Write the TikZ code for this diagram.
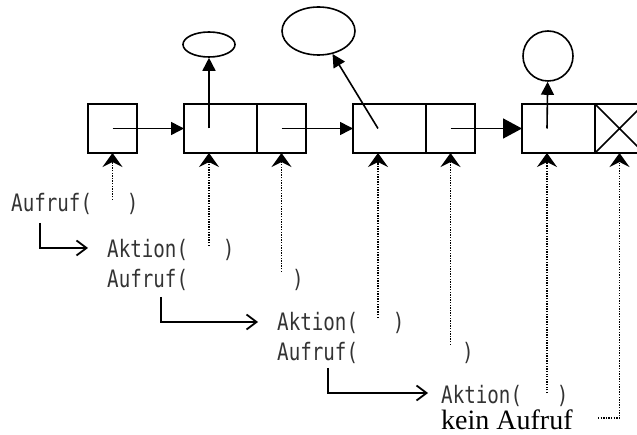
\documentclass[tikz,border=0pt]{standalone}
\usepackage{fontspec}
\usetikzlibrary{positioning,arrows.meta,shapes.geometric,calc}
\newfontfamily\codefont[FakeStretch=0.8]{DejaVu Sans Mono}
\newfontfamily\serfont{Liberation Serif}
\tikzset{
  listbox/.style={draw, line width=1.6pt, outer sep=0pt, inner sep=0pt, minimum height=49pt},
  kopfbox/.style={listbox, minimum width=49pt},
  datenbox/.style={listbox, minimum width=73pt},
  objekt/.style={draw, line width=1.6pt, ellipse, inner sep=0pt},
  codetext/.style={anchor=base west, inner sep=0pt, text=black!80,
    font=\codefont\fontsize{24}{28}\selectfont},
  listpfeil/.style={-{Triangle[length=13pt,width=13pt]}, line width=1.6pt},
  aufrufpfeil/.style={-{Straight Barb[length=10pt,width=15pt]}, line width=1.8pt},
  zeiger/.style={-{Stealth[length=14pt,width=20pt,inset=5pt]}, line width=1.4pt,
    dash pattern=on 1.3pt off 1.3pt}
}
\begin{document}
\begin{tikzpicture}[x=1pt, y=-1pt]
  \clip (0,0) rectangle (637,435);
  % Liste
  \node[kopfbox] (kopf) at (112.5,128.5) {};
  \node[datenbox, right=47pt of kopf] (d1) {};
  \node[kopfbox, right=0pt of d1] (n1) {};
  \node[datenbox, right=47pt of n1] (d2) {};
  \node[kopfbox, right=0pt of d2] (n2) {};
  \node[datenbox, right=47pt of n2] (d3) {};
  \node[kopfbox, right=0pt of d3] (nil) {};
  \draw[line width=1.6pt] (nil.north west) -- (nil.south east)
    (nil.south west) -- (nil.north east);

  % Objekte
  \node[objekt, minimum width=52pt, minimum height=25pt] (klein) at (209,44.5) {};
  \node[objekt, minimum width=73pt, minimum height=48pt] (gross) at (318.5,31) {};
  \node[objekt, circle, minimum size=50pt] (kreis) at (548,56) {};

  % Aufrufe
  \node[codetext] (auf0) at (11,212) {Aufruf(~~~)};
  \node[codetext] (akt1) at (107,258) {Aktion(~~~)};
  \node[codetext] (auf1) at (107,288) {Aufruf(~~~~~~~~~)};
  \node[codetext] (akt2) at (277,331) {Aktion(~~~)};
  \node[codetext] (auf2) at (277,361) {Aufruf(~~~~~~~~~)};
  \node[codetext] (akt3) at (441,403) {Aktion(~~~)};
  \node[anchor=base west, inner sep=0pt, font=\serfont\fontsize{28}{32}\selectfont]
    (kein) at (441,429) {kein Aufruf};

  \coordinate (z0) at (112.5,200);
  \coordinate (z1) at (209,246);
  \coordinate (z2) at (281.5,272);
  \coordinate (z3) at (378,318);
  \coordinate (z4) at (450.5,345);
  \coordinate (z5) at (547,393);
  \coordinate (z6) at (598,418);

  % Zeiger der Liste
  \draw[listpfeil] (kopf.center) -- (d1.west);
  \draw[listpfeil] (n1.center) -- (d2.west);
  \draw[listpfeil, -{Triangle[length=19pt,width=20pt]}] (n2.center) -- (d3.west);
  \draw[listpfeil] (z1 |- d1.center) -- (klein);
  \draw[listpfeil] (z3 |- d2.center) -- (gross);
  \draw[listpfeil] (z5 |- d3.center) -- (kreis);

  % Parameter
  \draw[zeiger] (z0) -- (kopf.south);
  \draw[zeiger] (z1) -- (z1 |- d1.south);
  \draw[zeiger] (z2) -- (n1.south);
  \draw[zeiger] (z3) -- (z3 |- d2.south);
  \draw[zeiger] (z4) -- (n2.south);
  \draw[zeiger] (z5) -- (z5 |- d3.south);
  \draw[zeiger] (z6) -| (nil.south);

  % Rekursion
  \draw[aufrufpfeil] ($(auf0.base west)+(29,11)$) |- ($(akt1.base west)+(-19,-10)$);
  \draw[aufrufpfeil] ($(auf1.base west)+(54,9)$) |- ($(akt2.base west)+(-19,-9)$);
  \draw[aufrufpfeil] ($(auf2.base west)+(51,7)$) |- ($(akt3.base west)+(-13,-10)$);
\end{tikzpicture}
\end{document}
